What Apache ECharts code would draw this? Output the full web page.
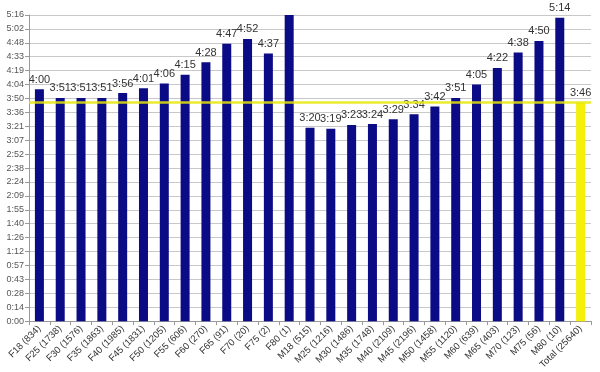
<!DOCTYPE html>
<html><head><meta charset="utf-8">
<script src="https://cdn.jsdelivr.net/npm/echarts@6/dist/echarts.min.js"></script>
<style>html,body{margin:0;padding:0;background:#fff}#c{width:600px;height:372px}</style>
</head><body><div id="c"></div>
<script>
const categories = ["F18 (834)","F25 (1738)","F30 (1576)","F35 (1863)","F40 (1985)","F45 (1831)","F50 (1205)","F55 (606)","F60 (270)","F65 (91)","F70 (20)","F75 (2)","F80 (1)","M18 (515)","M25 (1216)","M30 (1486)","M35 (1748)","M40 (2109)","M45 (2196)","M50 (1458)","M55 (1120)","M60 (639)","M65 (403)","M70 (123)","M75 (56)","M80 (10)","Total (25640)"];
const times = ["4:00","3:51","3:51","3:51","3:56","4:01","4:06","4:15","4:28","4:47","4:52","4:37","5:40","3:20","3:19","3:23","3:24","3:29","3:34","3:42","3:51","4:05","4:22","4:38","4:50","5:14","3:46"];
const hiddenLabels = ["F80 (1)"];
const highlightCategory = "Total (25640)";
const yMaxMinutes = 316.8, yStep = 14.4;

const toMin = s => { const p = s.split(":"); return +p[0]*60 + +p[1]; };
const fmt = v => { const t = Math.floor(v + 1e-6); return Math.floor(t/60) + ":" + String(t%60).padStart(2,"0"); };
const data = categories.map((c,i) => ({
  value: toMin(times[i]),
  itemStyle: { color: c === highlightCategory ? "#f5f00a" : "#0b0b86" },
  label: { show: hiddenLabels.indexOf(c) < 0, formatter: times[i] }
}));
const totalVal = toMin(times[categories.indexOf(highlightCategory)]);

const chart = echarts.init(document.getElementById('c'));
chart.setOption({
  animation: false,
  grid: { left: 29, right: 9, top: 15, bottom: 50 },
  xAxis: {
    type: 'category', data: categories, boundaryGap: true,
    axisLine: { lineStyle: { color: '#999' } },
    axisTick: { show: true, length: 4, lineStyle: { color: '#999' } },
    axisLabel: { rotate: 45, interval: 0, fontSize: 9.5, color: '#333', margin: 6, fontFamily: 'Liberation Sans, Arial' }
  },
  yAxis: {
    type: 'value', min: 0, max: yMaxMinutes, interval: yStep,
    axisLine: { show: true, lineStyle: { color: '#999' } },
    axisTick: { show: true, length: 4, lineStyle: { color: '#999' } },
    splitLine: { lineStyle: { color: '#c8c8c8' } },
    axisLabel: { formatter: fmt, fontSize: 9, color: '#555', margin: 5, fontFamily: 'Liberation Sans, Arial' }
  },
  series: [{
    type: 'bar', data: data, barWidth: 9, clip: true,
    label: { position: 'top', distance: 4, fontSize: 11, color: '#333', fontFamily: 'Liberation Sans, Arial' },
    markLine: {
      silent: true, symbol: 'none', label: { show: false },
      lineStyle: { color: '#e6e60a', width: 2.5, type: 'solid', opacity: 0.85 },
      data: [{ yAxis: totalVal }]
    }
  }]
});
</script></body></html>
